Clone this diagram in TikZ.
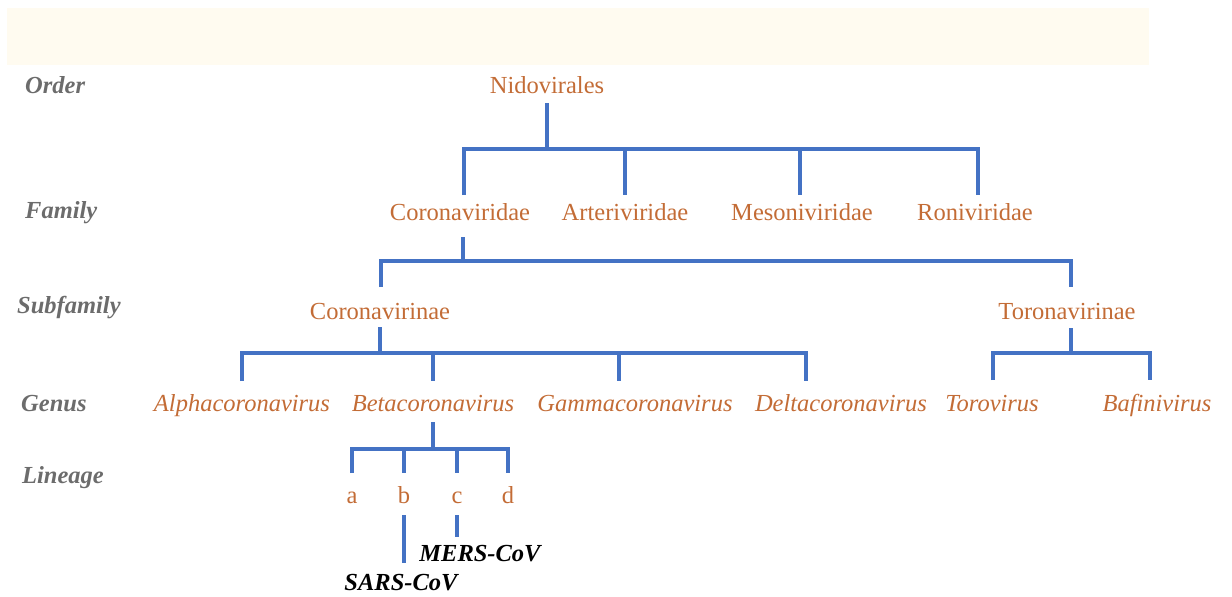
\documentclass[tikz,border=0pt]{standalone}
\usepackage{fontspec}
\setmainfont{Liberation Serif}
\definecolor{taxo}{RGB}{195,108,54}
\definecolor{rankgray}{RGB}{108,108,108}
\definecolor{linkblue}{RGB}{68,114,196}
\definecolor{band}{RGB}{255,251,240}
\tikzset{
  taxon/.style={anchor=base,inner sep=0pt,text=taxo,font=\fontsize{24.5}{28}\selectfont},
  genus/.style={taxon,font=\fontsize{24.5}{28}\selectfont\itshape},
  rank/.style={anchor=base west,inner sep=0pt,text=rankgray,font=\fontsize{24.5}{28}\selectfont\bfseries\itshape},
  virus/.style={anchor=base,inner sep=0pt,text=black,font=\fontsize{24.5}{28}\selectfont\bfseries\itshape},
  link/.style={draw=linkblue,line width=3.2pt,line join=miter}
}
\begin{document}
\begin{tikzpicture}[x=1pt,y=-1pt]
\useasboundingbox (0,0) rectangle (1232,597);
\fill[band] (7,8) rectangle (1149,65);

% rank labels
\node[rank] (lorder) at (25,93) {Order};
\node[rank] (lfamily) at (25,218) {Family};
\node[rank] (lsub) at (17,313) {Subfamily};
\node[rank] (lgenus) at (21,411) {Genus};
\node[rank] (llin) at (22,483) {Lineage};

% taxa
\node[taxon] (nid) at (547,93) {Nidovirales};
\node[taxon] (cvd) at (460,220) {Coronaviridae};
\node[taxon] (avd) at (625,220) {Arteriviridae};
\node[taxon] (mvd) at (802,220) {Mesoniviridae};
\node[taxon] (rvd) at (975,220) {Roniviridae};
\node[taxon] (cvn) at (380,319) {Coronavirinae};
\node[taxon] (tvn) at (1067,319) {Toronavirinae};
\node[genus] (alpha) at (242,411) {Alphacoronavirus};
\node[genus] (beta) at (433,411) {Betacoronavirus};
\node[genus] (gamma) at (635,411) {Gammacoronavirus};
\node[genus] (delta) at (841,411) {Deltacoronavirus};
\node[genus] (toro) at (992,411) {Torovirus};
\node[genus] (bafi) at (1157,411) {Bafinivirus};
\node[taxon] (la) at (352,503) {a};
\node[taxon] (lb) at (404,503) {b};
\node[taxon] (lc) at (457,503) {c};
\node[taxon] (ld) at (508,503) {d};
\node[virus] (mers) at (480,561) {MERS-CoV};
\node[virus] (sars) at (401,590) {SARS-CoV};

% connector end points
\coordinate (nidS) at (547,103);
\coordinate (nidJ) at (547,149);
\coordinate (cvdT) at (464,195);
\coordinate (avdT) at (625,195);
\coordinate (mvdT) at (800,195);
\coordinate (rvdT) at (978,195);
\coordinate (cvdS) at (463,237);
\coordinate (cvdJ) at (463,261);
\coordinate (cvnT) at (381,287);
\coordinate (tvnT) at (1071,287);
\coordinate (cvnS) at (380,327);
\coordinate (cvnJ) at (380,353);
\coordinate (alphaT) at (242,381);
\coordinate (betaT) at (433,381);
\coordinate (gammaT) at (619,381);
\coordinate (deltaT) at (806,381);
\coordinate (tvnS) at (1071,328);
\coordinate (tvnJ) at (1071,353);
\coordinate (toroT) at (993,380);
\coordinate (bafiT) at (1150,380);
\coordinate (betaS) at (433,422);
\coordinate (betaJ) at (433,449);
\coordinate (laT) at (352,473);
\coordinate (lbT) at (404,473);
\coordinate (lcT) at (457,473);
\coordinate (ldT) at (508,473);
\coordinate (lbS) at (404,515);
\coordinate (sarsT) at (404,563);
\coordinate (lcS) at (457,515);
\coordinate (mersT) at (457,537);

% order -> family
\draw[link] (nidS) -- (nidJ);
\draw[link] (cvdT) |- (nidJ) -| (rvdT);
\draw[link] (avdT |- nidJ) -- (avdT);
\draw[link] (mvdT |- nidJ) -- (mvdT);
% family -> subfamily
\draw[link] (cvdS) -- (cvdJ);
\draw[link] (cvnT) |- (cvdJ) -| (tvnT);
% subfamily -> genus
\draw[link] (cvnS) -- (cvnJ);
\draw[link] (alphaT) |- (cvnJ) -| (deltaT);
\draw[link] (betaT |- cvnJ) -- (betaT);
\draw[link] (gammaT |- cvnJ) -- (gammaT);
\draw[link] (tvnS) -- (tvnJ);
\draw[link] (toroT) |- (tvnJ) -| (bafiT);
% genus -> lineage
\draw[link] (betaS) -- (betaJ);
\draw[link] (laT) |- (betaJ) -| (ldT);
\draw[link] (lbT |- betaJ) -- (lbT);
\draw[link] (lcT |- betaJ) -- (lcT);
% lineage -> viruses
\draw[link] (lbS) -- (sarsT);
\draw[link] (lcS) -- (mersT);
\end{tikzpicture}
\end{document}
